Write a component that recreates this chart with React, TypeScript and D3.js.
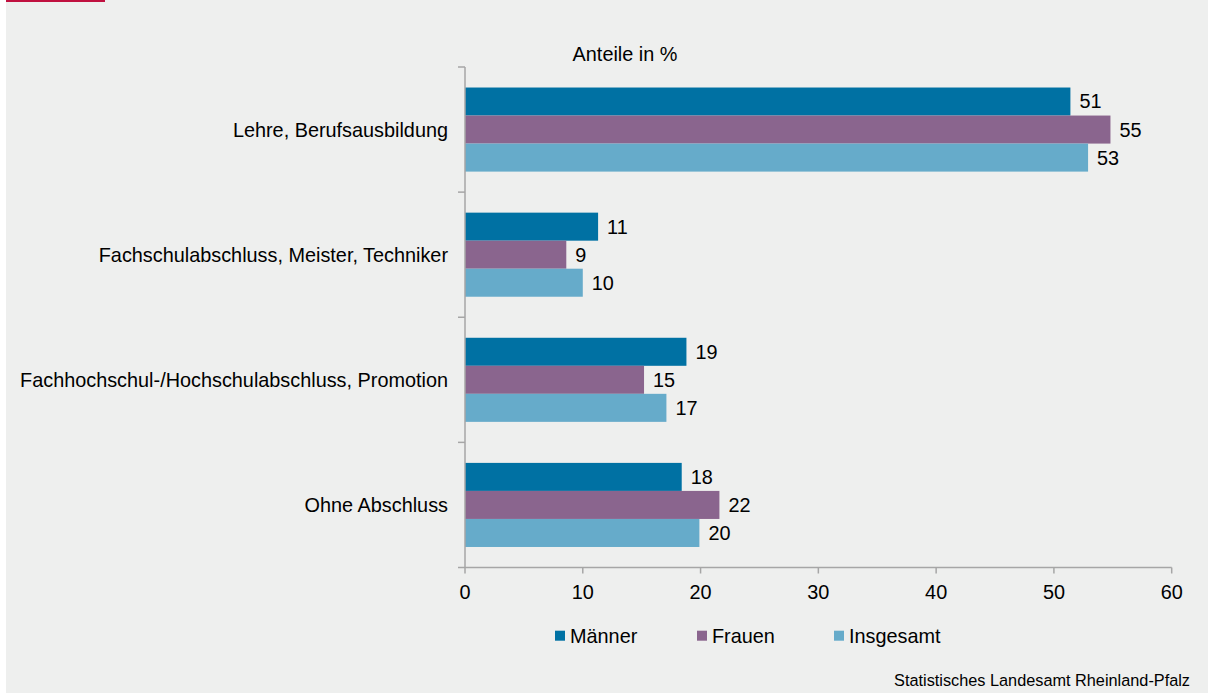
import React from "react";
import * as d3 from "d3";

const categories = [
  "Lehre, Berufsausbildung",
  "Fachschulabschluss, Meister, Techniker",
  "Fachhochschul-/Hochschulabschluss, Promotion",
  "Ohne Abschluss",
];
const seriesNames = ["Männer", "Frauen", "Insgesamt"];
const maenner = [51.4, 11.3, 18.8, 18.4];
const frauen = [54.8, 8.6, 15.2, 21.6];
const insgesamt = [52.9, 10.0, 17.1, 19.9];
const labelsM = ["51", "11", "19", "18"];
const labelsF = ["55", "9", "15", "22"];
const labelsI = ["53", "10", "17", "20"];
const xTicks = [0, 10, 20, 30, 40, 50, 60];
const colors = ["#0071a3", "#8a658e", "#66abca"];

const W = 1208;
const H = 694;
const FONT = "'Liberation Sans', Arial, sans-serif";
const FS = 19.85;

export default function App() {
  const left = 465;
  const right = 1171.7;
  const top = 67;
  const bottom = 567.5;
  const x = d3.scaleLinear().domain([0, 60]).range([left, right]);
  const y = d3.scaleBand<string>().domain(categories).range([top, bottom]).paddingInner(0).paddingOuter(0);
  const inner = d3.scaleBand<number>().domain([0, 1, 2]).range([0, y.bandwidth()]).paddingInner(0).paddingOuter(0.732);
  const series = [maenner, frauen, insgesamt];
  const labels = [labelsM, labelsF, labelsI];
  const boundaries = categories.map((c) => y(c) as number).concat([bottom]);
  const legendX = [555, 697, 834];
  const axisColor = "#a6a6a6";

  return (
    <svg width={W} height={H} style={{ position: "absolute", left: 0, top: 0 }} fontFamily={FONT}>
      <rect x={6} y={0} width={W - 6} height={693} fill="#eeefee" />
      <rect x={6} y={0} width={99} height={2} fill="#c0103f" />
      <text x={625} y={54} dy="0.35em" fontSize={FS} textAnchor="middle" fill="#000">
        Anteile in %
      </text>
      {categories.map((c, ci) =>
        series.map((s, si) => {
          const by = (y(c) as number) + (inner(si) as number);
          const bh = inner.bandwidth();
          return (
            <g key={c + si}>
              <rect x={x(0)} y={by} width={x(s[ci]) - x(0)} height={bh} fill={colors[si]} />
              <text x={x(s[ci]) + 9} y={by + bh / 2} dy="0.35em" fontSize={FS} fill="#000">
                {labels[si][ci]}
              </text>
            </g>
          );
        })
      )}
      {categories.map((c) => (
        <text key={c} x={448} y={(y(c) as number) + y.bandwidth() / 2} dy="0.35em" textAnchor="end" fontSize={FS} fill="#000">
          {c}
        </text>
      ))}
      <line x1={left} x2={left} y1={top} y2={bottom} stroke={axisColor} strokeWidth={1.5} />
      {boundaries.map((b, i) => (
        <line key={i} x1={left - 7} x2={left} y1={b} y2={b} stroke={axisColor} strokeWidth={1.5} />
      ))}
      <line x1={left} x2={right} y1={bottom} y2={bottom} stroke={axisColor} strokeWidth={1.5} />
      {xTicks.map((t) => (
        <g key={t}>
          <line x1={x(t)} x2={x(t)} y1={bottom} y2={bottom + 6} stroke={axisColor} strokeWidth={1.5} />
          <text x={x(t)} y={592} dy="0.35em" textAnchor="middle" fontSize={FS} fill="#000">
            {t}
          </text>
        </g>
      ))}
      {seriesNames.map((n, i) => (
        <g key={n}>
          <rect x={legendX[i]} y={630.7} width={10} height={10} fill={colors[i]} />
          <text x={legendX[i] + 15} y={636} dy="0.35em" fontSize={FS} fill="#000">
            {n}
          </text>
        </g>
      ))}
      <text x={1190} y={686} textAnchor="end" fontSize={16.3} fill="#000">
        Statistisches Landesamt Rheinland-Pfalz
      </text>
    </svg>
  );
}
